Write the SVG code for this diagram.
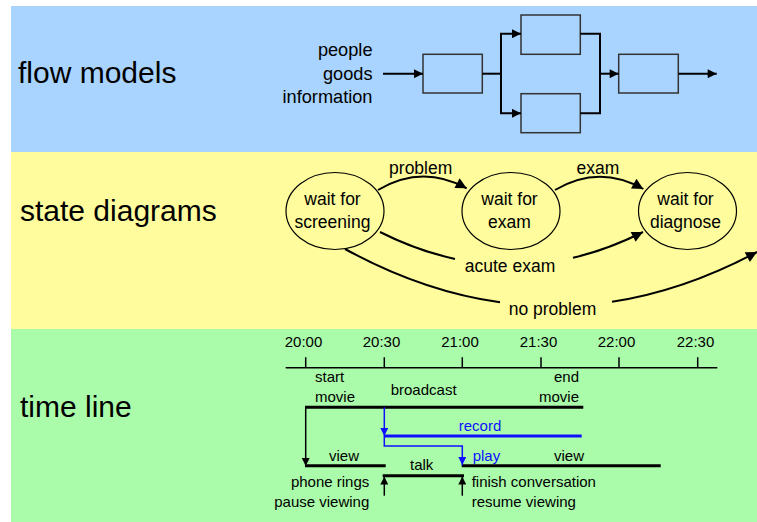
<svg xmlns="http://www.w3.org/2000/svg" width="757" height="522" viewBox="0 0 757 522">
<style>
text{font-family:"Liberation Sans",Arial,sans-serif;fill:#000}
.big{font-size:30px}
.m{font-size:17.5px}
.f{font-size:18.2px}
.s{font-size:15px}
.blue{fill:#1010ff}
.box{fill:none;stroke:#333;stroke-width:1.5}
.ln{fill:none;stroke:#000;stroke-width:2}
.thin{fill:none;stroke:#000;stroke-width:1.5}
.thick{fill:none;stroke:#000;stroke-width:3}
.bthin{fill:none;stroke:#1010ff;stroke-width:1.5}
.bthick{fill:none;stroke:#1010ff;stroke-width:3}
.ell{fill:none;stroke:#000;stroke-width:1.2}
</style>
<defs>
<marker id="a" viewBox="0 0 10 10" refX="10" refY="5" markerWidth="11" markerHeight="9" markerUnits="userSpaceOnUse" orient="auto"><path d="M0,0 L10,5 L0,10 z" fill="#000"/></marker>
<marker id="as" viewBox="0 0 10 10" refX="10" refY="5" markerWidth="14" markerHeight="11" markerUnits="userSpaceOnUse" orient="auto"><path d="M0,0 L10,5 L0,10 z" fill="#000"/></marker>
<marker id="at" viewBox="0 0 10 10" refX="10" refY="5" markerWidth="12" markerHeight="8" markerUnits="userSpaceOnUse" orient="auto"><path d="M0,0 L10,5 L0,10 z" fill="#000"/></marker>
<marker id="ab" viewBox="0 0 10 10" refX="10" refY="5" markerWidth="12" markerHeight="8" markerUnits="userSpaceOnUse" orient="auto"><path d="M0,0 L10,5 L0,10 z" fill="#1010ff"/></marker>
</defs>
<rect x="0" y="0" width="757" height="522" fill="#fff"/>
<rect x="11" y="6" width="746" height="146" fill="#a8d4ff"/>
<rect x="11" y="152" width="746" height="177" fill="#fefc9c"/>
<rect x="11" y="329" width="746" height="193" fill="#aafcaa"/>
<text class="big" x="18" y="83">flow models</text>
<text class="big" x="20" y="221">state diagrams</text>
<text class="big" x="20" y="417">time line</text>

<g id="flow-input-label">
<text class="f" x="372.5" y="56" text-anchor="end">people</text>
<text class="f" x="372.5" y="79.5" text-anchor="end">goods</text>
<text class="f" x="372.5" y="102.5" text-anchor="end">information</text>
</g>
<g id="box1"><rect class="box" x="423" y="54.3" width="59.3" height="38.7"/></g>
<g id="box2"><rect class="box" x="521" y="15" width="59.3" height="39.3"/></g>
<g id="box3"><rect class="box" x="521" y="93.7" width="59.3" height="39"/></g>
<g id="box4"><rect class="box" x="618.7" y="54.3" width="59.6" height="38.7"/></g>

<g id="state-screening"><ellipse class="ell" cx="335" cy="211" rx="49" ry="38.5"/>
<text class="m" x="332.5" y="205" text-anchor="middle">wait for</text>
<text class="m" x="332.5" y="228" text-anchor="middle">screening</text></g>
<g id="state-exam"><ellipse class="ell" cx="511" cy="211" rx="49" ry="38.5"/>
<text class="m" x="509.5" y="205" text-anchor="middle">wait for</text>
<text class="m" x="509.5" y="228" text-anchor="middle">exam</text></g>
<g id="state-diagnose"><ellipse class="ell" cx="687.5" cy="211" rx="49" ry="38.5"/>
<text class="m" x="685.5" y="205" text-anchor="middle">wait for</text>
<text class="m" x="685.5" y="228" text-anchor="middle">diagnose</text></g>

<g id="timeline-axis">
<line class="thin" x1="285.7" y1="367.7" x2="717.3" y2="367.7"/>
<path class="thin" d="M305.7,357.3V367.7M384.3,357.3V367.7M462.3,357.3V367.7M541,357.3V367.7M619,357.3V367.7M697.7,357.3V367.7"/>
<text class="s" x="303.5" y="347.3" text-anchor="middle">20:00</text>
<text class="s" x="381.5" y="347.3" text-anchor="middle">20:30</text>
<text class="s" x="460" y="347.3" text-anchor="middle">21:00</text>
<text class="s" x="538.5" y="347.3" text-anchor="middle">21:30</text>
<text class="s" x="616.5" y="347.3" text-anchor="middle">22:00</text>
<text class="s" x="695.5" y="347.3" text-anchor="middle">22:30</text>
</g>
<g id="broadcast"><line class="thick" x1="305" y1="407.3" x2="583.3" y2="407.3"/>
<text class="s" x="315" y="381.7">start</text>
<text class="s" x="315" y="401.7">movie</text>
<text class="s" x="390.7" y="395">broadcast</text>
<text class="s" x="579" y="381.7" text-anchor="end">end</text>
<text class="s" x="579" y="401.7" text-anchor="end">movie</text></g>
<g id="record"><line class="bthick" x1="384.3" y1="436" x2="581.7" y2="436"/>
<text class="s blue" x="480" y="430.7" text-anchor="middle">record</text></g>
<g id="view1"><line class="thick" x1="305" y1="465.7" x2="385.7" y2="465.7"/>
<text class="s" x="344" y="460.7" text-anchor="middle">view</text>
<text class="s" x="369.3" y="487.3" text-anchor="end">phone rings</text>
<text class="s" x="369.3" y="506.5" text-anchor="end">pause viewing</text></g>
<g id="talk"><line class="thick" x1="382.7" y1="475.7" x2="464" y2="475.7"/>
<text class="s" x="421.7" y="470" text-anchor="middle">talk</text></g>
<g id="view2"><line class="thick" x1="461.7" y1="465.7" x2="660.7" y2="465.7"/>
<text class="s blue" x="472.7" y="460.7">play</text>
<text class="s" x="569" y="460.7" text-anchor="middle">view</text>
<text class="s" x="471.7" y="487.3">finish conversation</text>
<text class="s" x="471.7" y="506.5">resume viewing</text></g>

<g id="connectors">
<line class="ln" x1="383" y1="73.7" x2="423" y2="73.7" marker-end="url(#a)"/>
<path class="ln" d="M482.3,73.7H501"/>
<path class="ln" d="M501,113.3V33.7H521" marker-end="url(#a)"/>
<path class="ln" d="M501,73.7V113.3H521" marker-end="url(#a)"/>
<path class="ln" d="M580.3,33.7H600V113.3H580.3"/>
<path class="ln" d="M600,73.7H618.7" marker-end="url(#a)"/>
<path class="ln" d="M678.3,73.7H716.7" marker-end="url(#a)"/>

<path class="ln" d="M378,190Q422,164 466.7,188.3" marker-end="url(#as)"/>
<text class="m" x="420.7" y="174" text-anchor="middle">problem</text>
<path class="ln" d="M555,190Q599,164 643.3,189" marker-end="url(#as)"/>
<text class="m" x="598" y="174" text-anchor="middle">exam</text>
<path class="ln" d="M380,232Q417.3,250.8 455,258.9"/>
<path class="ln" d="M573,257.8Q607.9,249.6 643,232" marker-end="url(#as)"/>
<text class="m" x="510" y="272" text-anchor="middle">acute exam</text>
<path class="ln" d="M345,249Q422.5,291.5 500,302.3"/>
<path class="ln" d="M612,301.8Q684.5,290.7 757,252" marker-end="url(#as)"/>
<text class="m" x="552.5" y="314.5" text-anchor="middle">no problem</text>

<path class="thin" d="M305.7,407.3V466" marker-end="url(#at)"/>
<path class="bthin" d="M384.3,407.3V436" marker-end="url(#ab)"/>
<path class="bthin" d="M384.3,436V446H462.3V465" marker-end="url(#ab)"/>
<path class="thin" d="M384.3,495.7V476.5" marker-end="url(#at)"/>
<path class="thin" d="M462.3,495.7V476.5" marker-end="url(#at)"/>
</g>
</svg>
